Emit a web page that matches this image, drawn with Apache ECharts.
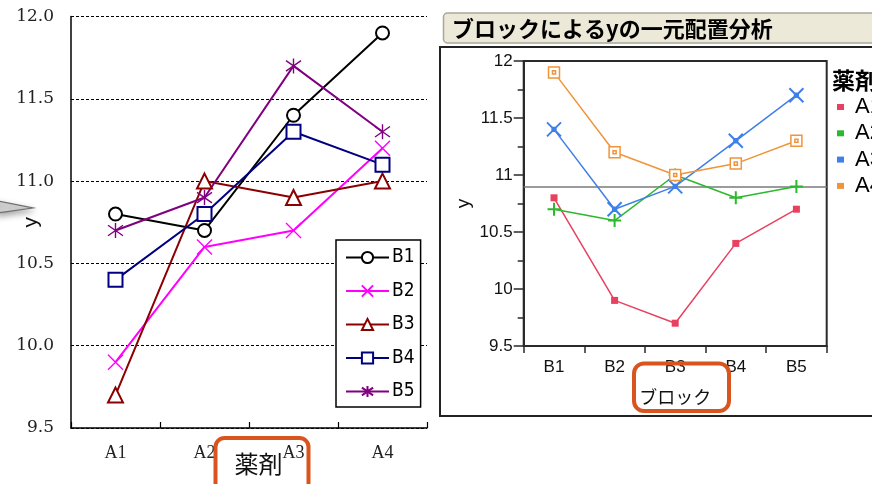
<!DOCTYPE html>
<html>
<head>
<meta charset="utf-8">
<script src="https://cdn.jsdelivr.net/npm/echarts@6/dist/echarts.min.js"></script>
<style>
  html, body { margin: 0; padding: 0; background: #fff; }
  #chart { width: 872px; height: 484px; }
</style>
</head>
<body>
<div id="chart"></div>
<script>
// Categories
const drugs = ['A1', 'A2', 'A3', 'A4'];
const blocks = ['B1', 'B2', 'B3', 'B4', 'B5'];

// Response y for each block, listed across drugs A1..A4
const yB1 = [10.8, 10.7, 11.4, 11.9];
const yB2 = [9.9, 10.6, 10.7, 11.2];
const yB3 = [9.7, 11.0, 10.9, 11.0];
const yB4 = [10.4, 10.8, 11.3, 11.1];
const yB5 = [10.7, 10.9, 11.7, 11.3];

// Shared y scale
const yMin = 9.5;
const yMax = 12;
const yStep = 0.5;

const blockRows = [yB1, yB2, yB3, yB4, yB5];
// Same data seen per drug across blocks
const byDrug = drugs.map((d, i) => blockRows.map(row => row[i]));
const allValues = blockRows.flat();
const grandMean = allValues.reduce((a, b) => a + b, 0) / allValues.length;

// Marker shapes
const crossPath = 'path://M0,0L10,10M10,0L0,10';
const starPath = 'path://M5,0L5,10M0.8,1.5L9.2,8.5M0.8,8.5L9.2,1.5';
const plusPath = 'path://M5,0L5,10M0,5L10,5';
const crossBoxPath = 'path://M0,0L10,10M10,0L0,10M3.8,3.8L6.2,3.8L6.2,6.2L3.8,6.2Z';
const boxInBoxPath = 'path://M0,0L10,0L10,10L0,10ZM3.6,3.6L6.4,3.6L6.4,6.4L3.6,6.4Z';

const blockStyles = [
  { color: '#000000', symbol: 'emptyCircle', size: 13 },
  { color: '#FF00FF', symbol: crossPath, size: 15 },
  { color: '#8B0000', symbol: 'emptyTriangle', size: 15 },
  { color: '#000080', symbol: 'emptyRect', size: 14 },
  { color: '#800080', symbol: starPath, size: 15 }
];

const drugStyles = [
  { color: '#E8405F', symbol: 'rect', size: 7, fill: '#E8405F', bw: 0 },
  { color: '#2DB82D', symbol: plusPath, size: 13, fill: '#2DB82D', bw: 2 },
  { color: '#3F7FE8', symbol: crossBoxPath, size: 14, fill: '#3F7FE8', bw: 2 },
  { color: '#F0943A', symbol: boxInBoxPath, size: 11, fill: '#ffffff', bw: 1.5 }
];

const serif = '"Liberation Serif", "DejaVu Serif", serif';
const wideSerif = '"DejaVu Serif", "Liberation Serif", serif';
const sans = '"Liberation Sans", Arial, sans-serif';
const narrow = '"DejaVu Sans Condensed", "Liberation Sans Narrow", "DejaVu Sans", sans-serif';
const jp = '"Noto Sans CJK JP", sans-serif';

const leftSeries = blocks.map((b, i) => ({
  name: b,
  type: 'line',
  xAxisIndex: 0,
  yAxisIndex: 0,
  data: blockRows[i],
  symbol: blockStyles[i].symbol,
  symbolSize: blockStyles[i].size,
  lineStyle: { color: blockStyles[i].color, width: 2 },
  itemStyle: { color: blockStyles[i].color, borderColor: blockStyles[i].color, borderWidth: 1.4 },
  emphasis: { disabled: true },
  z: 3
}));

const rightSeries = drugs.map((d, i) => ({
  name: d,
  type: 'line',
  xAxisIndex: 1,
  yAxisIndex: 1,
  data: byDrug[i],
  symbol: drugStyles[i].symbol,
  symbolSize: drugStyles[i].size,
  lineStyle: { color: drugStyles[i].color, width: 1.5 },
  itemStyle: { color: drugStyles[i].fill, borderColor: drugStyles[i].color, borderWidth: drugStyles[i].bw },
  emphasis: { disabled: true },
  z: 3,
  markLine: i === 0 ? {
    silent: true,
    symbol: 'none',
    label: { show: false },
    lineStyle: { color: '#7a7a7a', width: 1.6, type: 'solid' },
    data: [{ yAxis: grandMean }],
    z: 2
  } : undefined
}));

const chart = echarts.init(document.getElementById('chart'), null, { renderer: 'canvas' });

chart.setOption({
  animation: false,
  backgroundColor: '#ffffff',
  grid: [
    { left: 71, top: 16.5, width: 356, height: 411.5, outerBoundsMode: 'none', containLabel: false },
    { left: 523.7, top: 61, width: 303, height: 285, outerBoundsMode: 'none', containLabel: false,
      show: true, borderColor: '#2a2a2a', borderWidth: 2, backgroundColor: 'transparent' }
  ],
  xAxis: [
    {
      type: 'category', gridIndex: 0, data: drugs, boundaryGap: true,
      axisLine: { show: true, lineStyle: { color: '#000', width: 1.5 } },
      axisTick: { show: true, inside: true, length: 6, lineStyle: { color: '#000', width: 1.2 } },
      axisLabel: { fontFamily: serif, fontSize: 18, color: '#222', margin: 16 },
      splitLine: { show: false }
    },
    {
      type: 'category', gridIndex: 1, data: blocks, boundaryGap: true,
      axisLine: { show: true, lineStyle: { color: '#2a2a2a', width: 2 } },
      axisTick: { show: true, inside: false, length: 7, lineStyle: { color: '#2a2a2a', width: 1.5 } },
      axisLabel: { fontFamily: sans, fontSize: 17, color: '#111', margin: 13 },
      splitLine: { show: false },
      name: 'ブロック', nameLocation: 'middle', nameGap: 42, nameMoveOverlap: false,
      nameTextStyle: { fontFamily: jp, fontSize: 18, color: '#111' }
    }
  ],
  yAxis: [
    {
      type: 'value', gridIndex: 0, min: yMin, max: yMax, interval: yStep,
      axisLine: { show: true, lineStyle: { color: '#000', width: 1.5 } },
      axisTick: { show: false },
      axisLabel: { fontFamily: wideSerif, fontSize: 17, color: '#222', margin: 17,
        formatter: v => v.toFixed(1) },
      splitLine: { show: true, lineStyle: { color: '#000', width: 1, type: [3, 2] } },
      name: 'y', nameLocation: 'middle', nameGap: 29, nameMoveOverlap: false,
      nameTextStyle: { fontFamily: sans, fontSize: 21, color: '#111' }
    },
    {
      type: 'value', gridIndex: 1, min: yMin, max: yMax, interval: yStep,
      axisLine: { show: true, lineStyle: { color: '#2a2a2a', width: 2 } },
      axisTick: { show: true, inside: false, length: 10, lineStyle: { color: '#2a2a2a', width: 1.5 } },
      minorTick: { show: true, splitNumber: 2, length: 6, lineStyle: { color: '#2a2a2a', width: 1.5 } },
      axisLabel: { fontFamily: sans, fontSize: 17, color: '#111', margin: 11 },
      splitLine: { show: false },
      name: 'y', nameLocation: 'middle', nameGap: 50, nameMoveOverlap: false,
      nameTextStyle: { fontFamily: sans, fontSize: 19, color: '#111' }
    }
  ],
  legend: [
    {
      data: blocks, left: 336, top: 240, orient: 'vertical', selectedMode: false,
      padding: [8, 6, 6, 9], itemWidth: 43, itemHeight: 14, itemGap: 14.5,
      backgroundColor: '#fff', borderColor: '#000', borderWidth: 1.5, borderRadius: 0,
      textStyle: { fontFamily: narrow, fontSize: 19, color: '#000', padding: [0, 0, 0, -2] }
    },
    {
      data: drugs.map((d, i) => ({ name: d, icon: 'rect',
        itemStyle: { color: drugStyles[i].color, borderWidth: 0 } })),
      left: 837, top: 96, orient: 'vertical', selectedMode: false,
      padding: 0, itemWidth: 7, itemHeight: 6, itemGap: 4.3,
      textStyle: { fontFamily: sans, fontSize: 22, color: '#000', padding: [0, 0, 0, 6] }
    }
  ],
  graphic: [
    // pointer tail on the far left
    { type: 'polygon', z: 50,
      shape: { points: [[-2, 201], [33, 208], [-2, 213]] },
      style: { fill: '#d6d6d6', stroke: '#6e6e6e', lineWidth: 1.2,
        shadowBlur: 6, shadowColor: 'rgba(0,0,0,0.35)', shadowOffsetY: 3 } },
    // report title bar
    { type: 'rect', z: 50,
      shape: { x: 443.5, y: 13, width: 440, height: 30, r: 4 },
      style: { fill: '#ECE9D8', stroke: '#A9A69C', lineWidth: 1.5 } },
    { type: 'text', z: 51, x: 452, y: 28.5,
      style: { text: 'ブロックによるyの一元配置分析', fontFamily: jp, fontWeight: 'bold',
        fontSize: 22, fill: '#000', verticalAlign: 'middle', align: 'left' } },
    // frame around the block plot
    { type: 'rect', z: 50,
      shape: { x: 440, y: 47, width: 450, height: 369 },
      style: { fill: 'none', stroke: '#222', lineWidth: 2 } },
    // legend heading
    { type: 'text', z: 51, x: 832, y: 80,
      style: { text: '薬剤', fontFamily: jp, fontWeight: 'bold', fontSize: 23,
        fill: '#000', verticalAlign: 'middle', align: 'left' } },
    // x-axis title of the drug plot
    { type: 'text', z: 51, x: 258.5, y: 464,
      style: { text: '薬剤', fontFamily: jp, fontSize: 24, fill: '#111',
        verticalAlign: 'middle', align: 'center' } },
    // highlight boxes around the factor names
    { type: 'rect', z: 60,
      shape: { x: 215.5, y: 438, width: 93, height: 56, r: 9 },
      style: { fill: 'none', stroke: '#D9541E', lineWidth: 4 } },
    { type: 'rect', z: 60,
      shape: { x: 634, y: 363.5, width: 95, height: 47.5, r: 10 },
      style: { fill: 'none', stroke: '#D9541E', lineWidth: 4 } }
  ],
  series: leftSeries.concat(rightSeries)
});
</script>
</body>
</html>
